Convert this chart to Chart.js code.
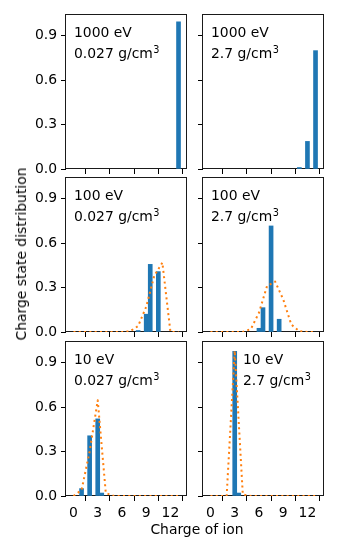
<!DOCTYPE html>
<html>
<head>
<meta charset="utf-8">
<script src="https://cdn.jsdelivr.net/npm/chart.js@4.4.0/dist/chart.umd.min.js"></script>
<style>
  body { margin: 0; background: #fff; width: 338px; height: 550px; position: relative; overflow: hidden; font-family: "DejaVu Sans", sans-serif; }
  .panel { position: absolute; }
  .lbl { position: absolute; font-size: 13.9px; line-height: 14px; color: #000; white-space: nowrap; }
  #ylabel { left: 21px; top: 254px; transform: translate(-50%, -50%) rotate(-90deg); }
  #xlabel { left: 197px; top: 521.7px; transform: translateX(-50%); }
</style>
</head>
<body>
<div id="panels"></div>
<div class="lbl" id="ylabel">Charge state distribution</div>
<div class="lbl" id="xlabel">Charge of ion</div>
<script>
"use strict";

// #region Data
const charges = [0, 1, 2, 3, 4, 5, 6, 7, 8, 9, 10, 11, 12, 13];
const xTicks = [0, 3, 6, 9, 12];
const yTicks = [0, 0.3, 0.6, 0.9];
const energies = ["1000 eV", "100 eV", "10 eV"];
const densities = ["0.027 g/cm", "2.7 g/cm"];

// bars (charge position, fraction)
const barX1000Low = [13];
const barY1000Low = [0.993];
const barX1000High = [11, 12, 13];
const barY1000High = [0.01, 0.186, 0.798];
const barX100Low = [8, 9, 9.5, 10.5];
const barY100Low = [0.01, 0.12, 0.456, 0.407];
const barX100High = [6, 6.5, 7.5, 8.5];
const barY100High = [0.025, 0.164, 0.715, 0.086];
const barX10Low = [1, 2, 3, 3.5];
const barY10Low = [0.05, 0.406, 0.52, 0.02];
const barX10High = [3, 3.5];
const barY10High = [0.975, 0.02];

// dotted curves, one value per charge
const fit100Low = [0, 0, 0, 0, 0, 0, 0, 0.005, 0.04, 0.17, 0.38, 0.468, 0, 0];
const fit100High = [0, 0, 0, 0, 0, 0.02, 0.13, 0.31, 0.34, 0.22, 0.05, 0.005, 0, 0];
const fit10Low = [0, 0.04, 0.3, 0.645, 0.02, 0, 0, 0, 0, 0, 0, 0, 0, 0];
const fit10High = [0, 0, 0, 0.98, 0.01, 0, 0, 0, 0, 0, 0, 0, 0, 0];
// #endregion

// #region Layout
const COL_LEFT = [66, 203];
const ROW_TOP = [14, 177, 341];
const PLOT_W = 120;
const PLOT_H = 155;
const AXIS_W = 60;
const AXIS_H = 35;
const PAD = 5;
const FONT = "DejaVu Sans";
const FS = 13.9;
const BLUE = "#1f77b4";
const ORANGE = "#ff7f0e";
// #endregion

const panels = [
    { row: 0, col: 0, bx: barX1000Low, by: barY1000Low, fit: null, noteX: 8 },
    { row: 0, col: 1, bx: barX1000High, by: barY1000High, fit: null, noteX: 8 },
    { row: 1, col: 0, bx: barX100Low, by: barY100Low, fit: fit100Low, noteX: 8 },
    { row: 1, col: 1, bx: barX100High, by: barY100High, fit: fit100High, noteX: 8 },
    { row: 2, col: 0, bx: barX10Low, by: barY10Low, fit: fit10Low, noteX: 8 },
    { row: 2, col: 1, bx: barX10High, by: barY10High, fit: fit10High, noteX: 40 },
];

/* frame + text box inside each panel */
const panelDeco = {
    id: "panelDeco",
    beforeDatasetsDraw(chart) {
        const { left, top, right, bottom } = chart.chartArea;
        const ctx = chart.ctx;
        ctx.save();
        ctx.strokeStyle = "#1a1a1a";
        ctx.lineWidth = 1;
        ctx.strokeRect(left - 0.5, top + 0.5, right - left + 1, bottom - top - 1);
        ctx.restore();
    },
    afterDatasetsDraw(chart, args, opts) {
        const { left, top } = chart.chartArea;
        const ctx = chart.ctx;
        ctx.save();
        ctx.fillStyle = "#000";
        ctx.textBaseline = "alphabetic";
        ctx.textAlign = "left";
        ctx.font = `${FS}px "${FONT}"`;
        const x = left + opts.dx;
        ctx.fillText(opts.energy, x, top + 23);
        ctx.fillText(opts.density, x, top + 44);
        const w = ctx.measureText(opts.density).width;
        ctx.font = `${FS * 0.7}px "${FONT}"`;
        ctx.fillText("3", x + w + 0.5, top + 44 - 5.5);
        ctx.restore();
    },
};

const holder = document.getElementById("panels");

panels.forEach((p) => {
    const div = document.createElement("div");
    div.className = "panel";
    div.style.left = COL_LEFT[p.col] - AXIS_W + "px";
    div.style.top = ROW_TOP[p.row] - PAD + "px";
    const canvas = document.createElement("canvas");
    canvas.width = AXIS_W + PLOT_W + PAD;
    canvas.height = PAD + PLOT_H + AXIS_H;
    div.appendChild(canvas);
    holder.appendChild(div);

    const datasets = [
        {
            type: "bar",
            data: p.bx.map((x, i) => ({ x: x, y: p.by[i] })),
            backgroundColor: BLUE,
            borderWidth: 0,
            barThickness: 4,
            order: 1,
        },
    ];
    if (p.fit) {
        datasets.push({
            type: "line",
            data: charges.map((c, i) => ({ x: c, y: p.fit[i] })),
            borderColor: ORANGE,
            borderWidth: 2,
            borderDash: [2, 3.3],
            borderCapStyle: "butt",
            borderJoinStyle: "round",
            pointRadius: 0,
            tension: 0,
            fill: false,
            order: 0,
        });
    }

    new Chart(canvas, {
        type: "bar",
        data: { datasets: datasets },
        plugins: [panelDeco],
        options: {
            responsive: false,
            devicePixelRatio: 1,
            animation: false,
            events: [],
            layout: { autoPadding: false, padding: { left: 0, top: PAD, right: PAD, bottom: 0 } },
            plugins: {
                legend: { display: false },
                tooltip: { enabled: false },
                panelDeco: { energy: energies[p.row], density: densities[p.col], dx: p.noteX },
            },
            scales: {
                x: {
                    type: "linear",
                    offset: false,
                    min: -0.925,
                    max: 13.925,
                    afterBuildTicks: (s) => { s.ticks = xTicks.map((v) => ({ value: v })); },
                    afterFit: (s) => { s.height = AXIS_H; s.paddingLeft = 0; s.paddingRight = 0; },
                    grid: { display: true, drawOnChartArea: false, drawTicks: true, tickLength: 5, color: "#000", lineWidth: 1 },
                    border: { display: false },
                    ticks: {
                        display: p.row === 2,
                        maxRotation: 0,
                        autoSkip: false,
                        padding: 4,
                        color: "#000",
                        font: { family: FONT, size: FS },
                        callback: (v) => String(v),
                    },
                },
                y: {
                    min: 0,
                    max: 1.045,
                    afterBuildTicks: (s) => { s.ticks = yTicks.map((v) => ({ value: v })); },
                    afterFit: (s) => { s.width = AXIS_W; s.paddingTop = 0; s.paddingBottom = 0; },
                    grid: { display: true, drawOnChartArea: false, drawTicks: true, tickLength: 5, color: "#000", lineWidth: 1 },
                    border: { display: false },
                    ticks: {
                        display: p.col === 0,
                        padding: 4,
                        color: "#000",
                        font: { family: FONT, size: FS },
                        callback: (v) => v.toFixed(1),
                    },
                },
            },
        },
    });
});
</script>
</body>
</html>
